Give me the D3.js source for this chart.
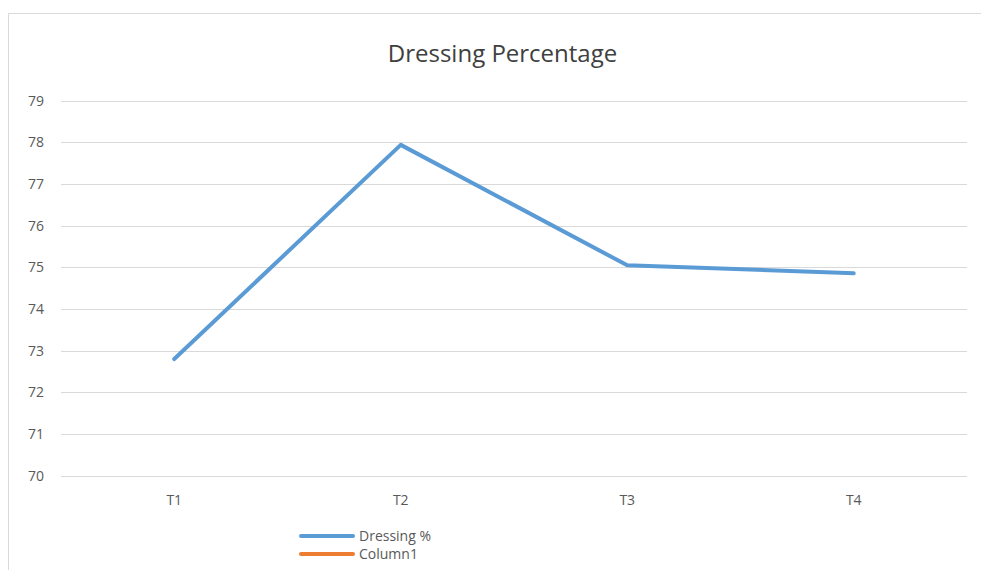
<!DOCTYPE html>
<html><head><meta charset="utf-8">
<script src="https://cdn.jsdelivr.net/npm/d3@7"></script>
<style>body{margin:0;background:#fff}svg{display:block}</style>
</head><body>
<script>
const categories = ["T1","T2","T3","T4"];
const dressing = [72.8, 77.94, 75.05, 74.86];
const column1 = [];
const yTicks = [70,71,72,73,74,75,76,77,78,79];
const title = "Dressing Percentage";
const seriesNames = ["Dressing %","Column1"];

const W=981,H=570;
const svg=d3.select("body").append("svg").attr("width",W).attr("height",H);
const font="'Open Sans', 'Noto Sans', sans-serif";
svg.append("path").attr("d",`M8.5,${H+2}V13.5H${W+2}`).attr("fill","none").attr("stroke","#d9d9d9").attr("stroke-width",1);

const x=d3.scaleBand().domain(categories).range([61,967]);
const y=d3.scaleLinear().domain([70,79]).range([475.7,100.7]);

yTicks.forEach(t=>{
  svg.append("line").attr("x1",61).attr("x2",967).attr("y1",Math.round(y(t))+0.5).attr("y2",Math.round(y(t))+0.5)
   .attr("stroke","#d9d9d9").attr("stroke-width",1);
  svg.append("text").attr("x",44).attr("y",y(t)).attr("dy","0.35em").attr("text-anchor","end")
   .attr("font-family",font).attr("font-size",14).attr("fill","#595959").text(t);
});
categories.forEach(c=>{
  svg.append("text").attr("x",x(c)+x.bandwidth()/2).attr("y",500).attr("dy","0.35em").attr("text-anchor","middle")
   .attr("font-family",font).attr("font-size",14).attr("fill","#595959").text(c);
});
svg.append("text").attr("x",502.5).attr("y",54).attr("dy","0.35em").attr("text-anchor","middle")
 .attr("font-family",font).attr("font-size",24).attr("fill","#404040").text(title);

const line=d3.line().x((d,i)=>x(categories[i])+x.bandwidth()/2).y(d=>y(d));
svg.append("path").datum(dressing).attr("d",line).attr("fill","none").attr("stroke","#5b9bd5")
 .attr("stroke-width",4).attr("stroke-linejoin","round").attr("stroke-linecap","round");

const colors=["#5b9bd5","#ed7d31"];
seriesNames.forEach((n,i)=>{
  const yy=536+i*18;
  svg.append("line").attr("x1",301).attr("x2",353).attr("y1",yy).attr("y2",yy).attr("stroke",colors[i]).attr("stroke-width",4).attr("stroke-linecap","round");
  svg.append("text").attr("x",359).attr("y",yy).attr("dy","0.35em").attr("font-family",font).attr("font-size",14).attr("fill","#595959").text(n);
});
</script>
</body></html>
